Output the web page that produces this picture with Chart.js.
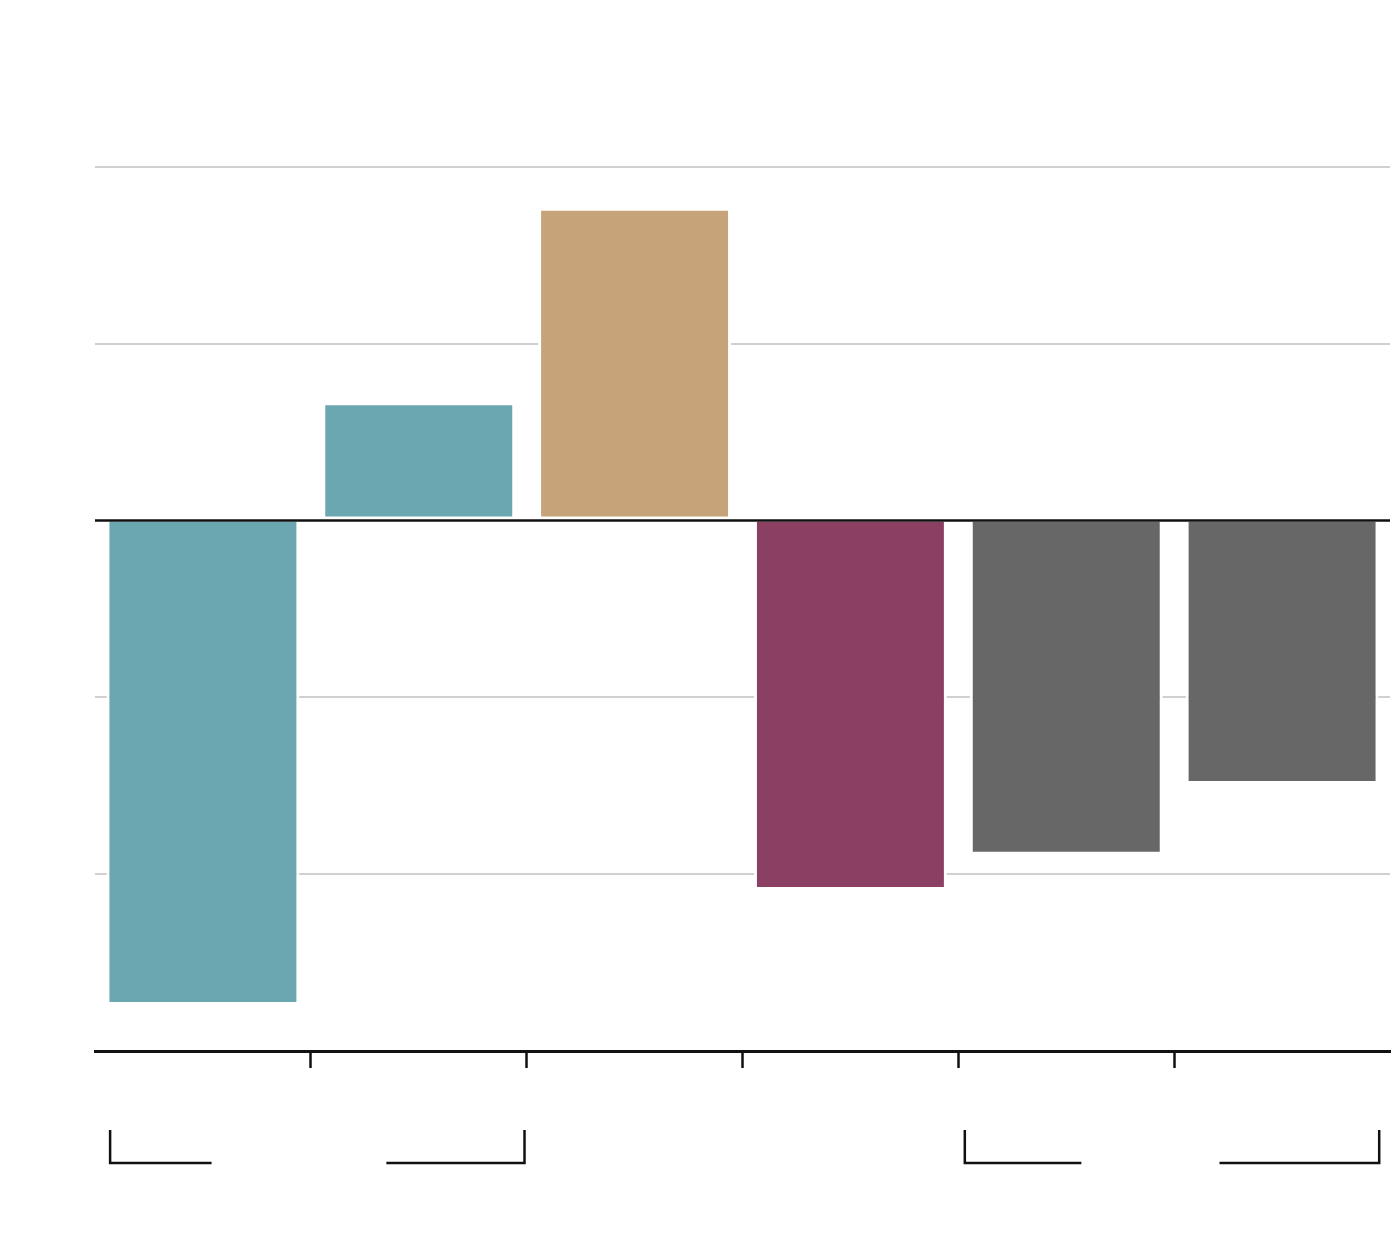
<!DOCTYPE html>
<html>
<head>
<meta charset="utf-8">
<script src="https://cdn.jsdelivr.net/npm/chart.js@4"></script>
<style>
  html, body { margin: 0; padding: 0; background: #fff; }
  #wrap { width: 1400px; height: 1252px; }
</style>
</head>
<body>
<div id="wrap"><canvas id="chart"></canvas></div>
<script>
// data
const categories = ['', '', '', '', '', ''];
const values = [-2.74, 0.67, 1.77, -2.09, -1.89, -1.49];
const barColors = ['#6ba7b0', '#6ba7b0', '#c6a379', '#8b3f62', '#676767', '#676767'];
const yTicks = { min: -3, max: 2, step: 1 };

// group brackets under the axis, in category units
const brackets = [
  { from: -0.43, to: 1.49, gapFrom: 0.04, gapTo: 0.85 },
  { from: 3.53, to: 5.45, gapFrom: 4.07, gapTo: 4.71 }
];

const extras = {
  id: 'extras',
  afterDatasetsDraw(chart) {
    const { ctx, chartArea } = chart;
    const y = chart.scales.y.getPixelForValue(0);
    ctx.save();
    ctx.strokeStyle = '#111';
    ctx.lineWidth = 2.5;
    ctx.beginPath();
    ctx.moveTo(chartArea.left, y);
    ctx.lineTo(chartArea.right, y);
    ctx.stroke();
    ctx.restore();
  },
  afterDraw(chart) {
    const { ctx, chartArea } = chart;
    const x = chart.scales.x;
    const top = chartArea.bottom + 79;
    const bot = chartArea.bottom + 112;
    ctx.save();
    ctx.strokeStyle = '#111';
    ctx.lineWidth = 2.5;
    brackets.forEach(b => {
      const x0 = x.getPixelForValue(b.from);
      const x1 = x.getPixelForValue(b.to);
      const g0 = x.getPixelForValue(b.gapFrom);
      const g1 = x.getPixelForValue(b.gapTo);
      ctx.beginPath();
      ctx.moveTo(x0, top);
      ctx.lineTo(x0, bot);
      ctx.lineTo(g0, bot);
      ctx.moveTo(g1, bot);
      ctx.lineTo(x1, bot);
      ctx.lineTo(x1, top);
      ctx.stroke();
    });
    ctx.restore();
  }
};

new Chart(document.getElementById('chart'), {
  type: 'bar',
  data: {
    labels: categories,
    datasets: [{
      data: values,
      backgroundColor: barColors,
      borderColor: '#fff',
      borderWidth: 3,
      borderSkipped: ctx => (ctx.raw > 0 ? false : 'start'),
      barPercentage: 0.894,
      categoryPercentage: 1
    }]
  },
  options: {
    responsive: true,
    maintainAspectRatio: false,
    animation: false,
    layout: { padding: { left: 95, right: 10, top: 167, bottom: 184 } },
    plugins: { legend: { display: false }, tooltip: { enabled: false } },
    scales: {
      x: {
        type: 'category',
        offset: true,
        grid: {
          offset: true,
          drawOnChartArea: false,
          drawTicks: true,
          tickLength: 17,
          tickWidth: 2.5,
          tickColor: c => (c.type !== 'tick' || !c.index ? 'rgba(0,0,0,0)' : '#111')
        },
        border: { display: true, color: '#111', width: 3 },
        ticks: { display: false }
      },
      y: {
        min: yTicks.min,
        max: yTicks.max,
        ticks: { display: false, stepSize: yTicks.step },
        border: { display: false },
        grid: {
          drawTicks: false,
          lineWidth: 2,
          color: c => (c.tick.value === 0 || c.tick.value === yTicks.min ? 'rgba(0,0,0,0)' : '#d0d0d0')
        }
      }
    }
  },
  plugins: [extras]
});
</script>
</body>
</html>
